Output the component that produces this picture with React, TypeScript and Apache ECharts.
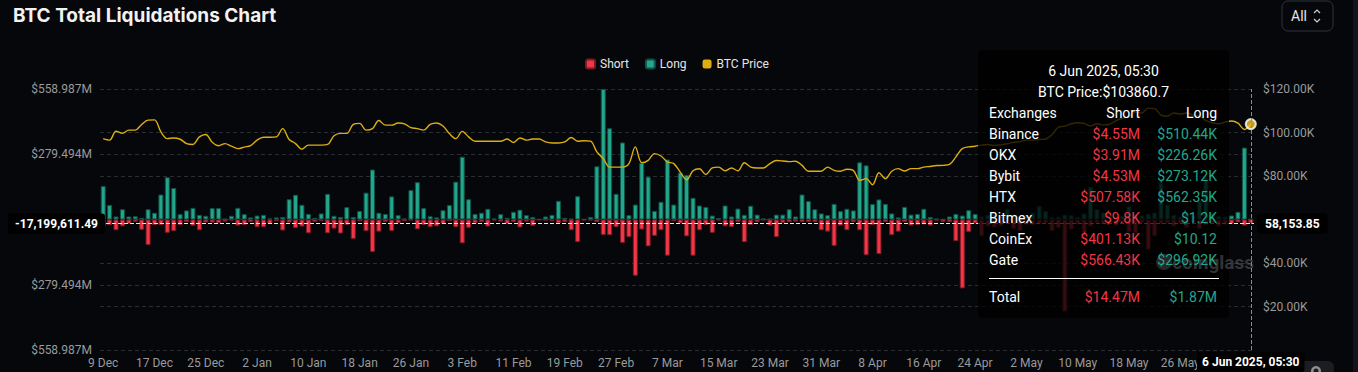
import React, { useEffect, useRef } from 'react';
import * as echarts from 'echarts';

// ---------- data ----------
const START_UTC = Date.UTC(2024, 11, 9);
const DAY_COUNT = 180;
const MONTHS = ['Jan', 'Feb', 'Mar', 'Apr', 'May', 'Jun', 'Jul', 'Aug', 'Sep', 'Oct', 'Nov', 'Dec'];
const categories: string[] = Array.from({ length: DAY_COUNT }, (_, i) => {
  const d = new Date(START_UTC + i * 86400000);
  return `${d.getUTCDate()} ${MONTHS[d.getUTCMonth()]}`;
});

// Long liquidations (millions USD)
const longM = [
  143, 62, 13, 44, 13, 14, 7, 44, 29, 107, 181, 135, 23, 39, 50, 20, 16, 49, 49, 3, 16, 50, 23, 9, 17, 20, 4, 9, 11, 87, 106, 63, 24, 7, 26, 110,
  16, 11, 53, 11, 37, 115, 214, 29, 24, 99, 19, 4, 126, 160, 49, 14, 9, 40, 62, 162, 269, 87, 24, 29, 46, 4, 23, 7, 33, 42, 19, 11, 1, 13, 20, 80,
  7, 3, 100, 1, 11, 228, 558.9, 391, 110, 330, 19, 64, 242, 183, 37, 76, 257, 64, 201, 191, 93, 60, 54, 17, 6, 60, 13, 47, 20, 59, 21, 4, 3, 21, 21, 44,
  13, 107, 79, 44, 26, 19, 67, 36, 46, 39, 245, 232, 66, 86, 67, 26, 9, 54, 21, 24, 46, 11, 3, 1, 13, 24, 17, 40, 24,
  13, 20, 24, 15, 46, 20, 12, 18, 30, 57, 36, 10, 12, 21, 18, 10, 26, 140, 45, 30, 20, 12, 15, 57, 22, 18, 25, 30, 158, 64, 20, 12, 25, 18, 80, 179, 30, 15, 12, 17, 33, 308, 1.87,
];

// Short liquidations (millions USD, magnitude)
const shortM = [
  30, 24, 46, 29, 19, 10, 44, 109, 24, 24, 57, 50, 24, 11, 27, 46, 13, 13, 16, 9, 4, 26, 24, 11, 33, 33, 19, 7, 47, 13, 37, 30, 59, 10, 7, 59,
  39, 60, 23, 83, 7, 50, 139, 52, 10, 49, 16, 7, 3, 42, 23, 33, 29, 19, 6, 33, 102, 36, 16, 11, 30, 4, 9, 19, 11, 34, 9, 27, 3, 3, 7, 16,
  11, 46, 97, 4, 4, 11, 66, 67, 33, 100, 76, 241, 43, 115, 70, 46, 155, 7, 17, 72, 155, 46, 23, 57, 4, 29, 32, 11, 97, 23, 11, 3, 26, 75, 14, 11,
  9, 11, 10, 11, 46, 52, 113, 26, 46, 11, 46, 153, 24, 148, 11, 67, 52, 11, 26, 23, 21, 26, 4, 10, 11, 93, 295, 53, 17,
  72, 30, 35, 29, 10, 40, 50, 22, 25, 20, 15, 50, 36, 394, 43, 21, 57, 30, 15, 20, 12, 28, 10, 55, 60, 15, 129, 72, 20, 15, 30, 18, 35, 12, 40, 25, 15, 30, 22, 19, 12, 26, 14.47,
];

// BTC price (thousands USD)
const priceK = [
  97.2, 96.5, 100.6, 99.6, 101.1, 101.1, 103.7, 105.7, 105.8, 100.3, 97.2, 97.5, 96.9, 94.9, 94.5, 98.0, 99.1, 95.5, 93.9, 94.9, 93.7, 92.6, 93.3, 94.0, 96.5, 97.8, 97.8, 98.0, 101.8, 96.8, 94.9, 92.3, 94.2, 94.2, 94.2, 94.5,
  98.5, 99.6, 99.6, 103.7, 104.2, 101.1, 101.8, 105.5, 103.4, 103.4, 104.4, 104.0, 102.2, 101.8, 101.1, 103.7, 104.4, 103.0, 99.5, 97.2, 100.5, 98.0, 96.0, 96.0, 96.0, 96.0, 96.0, 97.0, 95.4, 97.5, 96.5, 97.0, 97.0, 95.7, 95.2, 95.2,
  95.7, 97.7, 96.0, 96.2, 96.0, 91.1, 88.0, 84.1, 84.1, 84.1, 85.7, 93.4, 86.1, 87.2, 90.3, 89.2, 86.5, 85.7, 81.8, 78.3, 82.4, 83.3, 80.7, 83.7, 84.1, 82.4, 83.7, 82.4, 86.1, 84.1, 83.7, 83.7, 85.7, 87.1, 86.9, 86.6,
  86.8, 84.9, 82.2, 82.2, 82.2, 84.1, 82.6, 82.2, 83.1, 82.6, 78.0, 78.8, 76.0, 81.5, 78.8, 82.2, 83.4, 82.3, 83.4, 83.4, 84.1, 84.4, 84.8, 84.9, 85.3, 88.8, 92.6, 93.4, 93.7,
  94.2, 94.5, 94.0, 94.3, 94.8, 95.5, 95.8, 96.5, 96.5, 96.8, 97.0, 99.0, 102.5, 102.9, 104.0, 104.5, 104.2, 103.0, 104.0, 103.5, 103.8, 105.5, 106.5, 107.2, 109.5, 109.0, 111.2, 111.0, 108.0, 107.5, 109.0, 108.5, 109.0, 108.0, 107.5, 105.5, 104.5, 104.0, 104.8, 105.3, 104.3, 101.4, 103.8607,
];

// axis ticks
const LIQ_MAX_M = 558.9872;
const LIQ_STEP_M = 279.4936;
const PRICE_MAX_K = 120;
const PRICE_STEP_K = 20;
const X_LABEL_EVERY = 8;
const X_LABEL_LAST = 168; // 26 May; the next tick sits under the crosshair label

// crosshair (hovered point)
const crossTime = '6 Jun 2025, 05:30';
const crossLiqM = -17.19961149;
const crossPriceK = 58.15385;

// tooltip table
const tipTitle = '6 Jun 2025, 05:30';
const tipPrice = 'BTC Price:$103860.7';
const exchanges = ['Binance', 'OKX', 'Bybit', 'HTX', 'Bitmex', 'CoinEx', 'Gate'];
const tipShort = ['$4.55M', '$3.91M', '$4.53M', '$507.58K', '$9.8K', '$401.13K', '$566.43K'];
const tipLong = ['$510.44K', '$226.26K', '$273.12K', '$562.35K', '$1.2K', '$10.12', '$296.92K'];
const tipTotalShort = '$14.47M';
const tipTotalLong = '$1.87M';

// ---------- styles ----------
const BG = '#05070b';
const RED = '#f23645';
const TEAL = '#22a68c';
const YELLOW = '#dcae12';
const GRID = '#2a2d34';
const LABEL = '#9a9a9a';
const FONT = 'Roboto, "Noto Sans", sans-serif';
const TIP_Z = 300;

function fmtNum(v: number) {
  return v.toLocaleString('en-US', { minimumFractionDigits: 2, maximumFractionDigits: 2 });
}

export default function App() {
  const ref = useRef<HTMLDivElement>(null);

  useEffect(() => {
    document.body.style.margin = '0';
    document.body.style.background = BG;
    const chart = echarts.init(ref.current!, null, { renderer: 'svg' });
    const lastIndex = DAY_COUNT - 1;

    const tipX = 978;
    const tipY = 50;
    const tipW = 251;
    const tipH = 268;
    const colName = 989;
    const colShort = 1140;
    const colLong = 1217;
    const tipText = (text: string, x: number, y: number, fill: string, align: string) => ({
      type: 'text',
      z: TIP_Z + 2,
      x,
      y,
      style: { text, fill, fontSize: 14, fontFamily: FONT, align, verticalAlign: 'middle' },
    });

    const tipElements: any[] = [
      { type: 'rect', z: TIP_Z, shape: { x: tipX, y: tipY, width: tipW, height: tipH, r: 4 }, style: { fill: 'rgba(0,0,0,0.78)' } },
      tipText(tipTitle, tipX + tipW / 2, 71, '#ffffff', 'center'),
      tipText(tipPrice, tipX + tipW / 2, 92, '#ffffff', 'center'),
      tipText('Exchanges', colName, 113, '#ffffff', 'left'),
      tipText('Short', colShort, 113, '#ffffff', 'right'),
      tipText('Long', colLong, 113, '#ffffff', 'right'),
    ];
    exchanges.forEach((name, k) => {
      const y = 134 + 21 * k;
      tipElements.push(tipText(name, colName, y, '#ffffff', 'left'));
      tipElements.push(tipText(tipShort[k], colShort, y, RED, 'right'));
      tipElements.push(tipText(tipLong[k], colLong, y, TEAL, 'right'));
    });
    tipElements.push({ type: 'line', z: TIP_Z + 2, shape: { x1: colName, y1: 278.5, x2: 1219, y2: 278.5 }, style: { stroke: '#ffffff', lineWidth: 1 } });
    tipElements.push(tipText('Total', colName, 297, '#ffffff', 'left'));
    tipElements.push(tipText(tipTotalShort, colShort, 297, RED, 'right'));
    tipElements.push(tipText(tipTotalLong, colLong, 297, TEAL, 'right'));

    const pointerLabel = {
      show: true,
      backgroundColor: '#000000',
      color: '#ffffff',
      fontSize: 12,
      fontWeight: 'bold',
      fontFamily: FONT,
    };

    const option: any = {
      animation: false,
      backgroundColor: BG,
      textStyle: { fontFamily: FONT },
      title: {
        text: 'BTC Total Liquidations Chart',
        left: 8,
        top: 1,
        textStyle: { color: '#f2f2f2', fontSize: 19, fontWeight: 'bold', fontFamily: 'Inter, Roboto, sans-serif' },
      },
      legend: {
        data: ['Short', 'Long', 'BTC Price'],
        top: 53,
        left: 580,
        icon: 'roundRect',
        itemWidth: 9,
        itemHeight: 9,
        itemGap: 16,
        selectedMode: false,
        textStyle: { color: '#e6e6e6', fontSize: 12, fontFamily: FONT },
      },
      grid: { left: 100, right: 104, top: 89, bottom: 22 },
      xAxis: {
        type: 'category',
        data: categories,
        boundaryGap: true,
        axisLine: { show: false },
        axisTick: { show: false },
        splitLine: { show: false },
        axisLabel: {
          interval: (idx: number) => idx % X_LABEL_EVERY === 0 && idx <= X_LABEL_LAST,
          color: LABEL,
          fontSize: 12,
          margin: 7,
        },
        axisPointer: {
          show: true,
          status: 'show',
          value: lastIndex,
          type: 'line',
          snap: false,
          triggerTooltip: false,
          lineStyle: { color: '#8a8a8a', type: 'dashed', width: 1 },
          label: { ...pointerLabel, formatter: () => crossTime, padding: [4, 5], margin: 2 },
        },
      },
      yAxis: [
        {
          type: 'value',
          position: 'left',
          min: -LIQ_MAX_M,
          max: LIQ_MAX_M,
          interval: LIQ_STEP_M,
          axisLine: { show: false },
          axisTick: { show: false },
          splitLine: { show: true, lineStyle: { color: GRID, type: [4, 3], width: 1 } },
          axisLabel: {
            color: LABEL,
            fontSize: 12,
            margin: 8,
            formatter: (v: number) => (Math.abs(v) < 1e-6 ? '' : `$${Math.abs(v).toFixed(3)}M`),
          },
          axisPointer: {
            show: true,
            status: 'show',
            value: crossLiqM,
            type: 'line',
            snap: false,
            triggerTooltip: false,
            lineStyle: { color: '#e8e8e8', type: 'dashed', width: 1 },
            label: { ...pointerLabel, formatter: (p: any) => fmtNum(p.value * 1e6), padding: [4, 7], margin: -5 },
          },
        },
        {
          type: 'value',
          position: 'right',
          min: 0,
          max: PRICE_MAX_K,
          interval: PRICE_STEP_K,
          axisLine: { show: false },
          axisTick: { show: false },
          splitLine: { show: true, lineStyle: { color: GRID, type: [4, 3], width: 1 } },
          axisLabel: {
            color: LABEL,
            fontSize: 12,
            margin: 9,
            formatter: (v: number) => (v === 0 || v === 60 ? '' : `$${v.toFixed(2)}K`),
          },
          axisPointer: {
            show: true,
            status: 'show',
            value: crossPriceK,
            type: 'line',
            snap: false,
            triggerTooltip: false,
            lineStyle: { color: '#e8e8e8', type: 'dashed', width: 1 },
            label: { ...pointerLabel, formatter: (p: any) => fmtNum(p.value * 1000), padding: [4, 8], margin: 3 },
          },
        },
      ],
      series: [
        {
          name: 'Short',
          type: 'bar',
          stack: 'liq',
          barWidth: '78%',
          data: shortM.map((v) => -v),
          itemStyle: { color: RED, borderColor: '#7d1a25', borderWidth: 1 },
        },
        {
          name: 'Long',
          type: 'bar',
          stack: 'liq',
          barWidth: '78%',
          data: longM,
          itemStyle: { color: TEAL, borderColor: '#0f5247', borderWidth: 1 },
        },
        {
          name: 'BTC Price',
          type: 'line',
          yAxisIndex: 1,
          data: priceK,
          smooth: 0.35,
          symbol: 'none',
          lineStyle: { color: YELLOW, width: 1.4 },
          itemStyle: { color: YELLOW },
          z: 4,
        },
        {
          name: 'Latest',
          type: 'scatter',
          yAxisIndex: 1,
          data: [[lastIndex, priceK[lastIndex]]],
          symbolSize: 10,
          itemStyle: { color: '#f7c42c', borderColor: '#ffffff', borderWidth: 2 },
          z: 6,
        },
      ],
      graphic: [
        // tooltip
        ...tipElements,
        // watermark (over the tooltip background, under its text)
        { type: 'circle', z: TIP_Z + 1, shape: { cx: 1164, cy: 262, r: 8 }, style: { fill: 'rgba(130,130,130,0.3)' } },
        {
          type: 'text', z: TIP_Z + 1, x: 1254, y: 262,
          style: { text: 'coinglass', fill: 'rgba(130,130,130,0.4)', fontSize: 19, fontWeight: 'bold', fontFamily: FONT, align: 'right', verticalAlign: 'middle' },
        },
        // "All" selector
        { type: 'rect', z: 10, shape: { x: 1282, y: 1, width: 51, height: 30, r: 6 }, style: { fill: 'transparent', stroke: '#30343b', lineWidth: 1 } },
        {
          type: 'text', z: 10, x: 1291, y: 16,
          style: { text: 'All', fill: '#e8e8e8', fontSize: 14, fontFamily: FONT, align: 'left', verticalAlign: 'middle' },
        },
        { type: 'polyline', z: 10, shape: { points: [[1314, 13], [1317, 10], [1320, 13]] }, style: { stroke: '#cfcfcf', lineWidth: 1.2, fill: 'none' } },
        { type: 'polyline', z: 10, shape: { points: [[1314, 19], [1317, 22], [1320, 19]] }, style: { stroke: '#cfcfcf', lineWidth: 1.2, fill: 'none' } },
        // settings button (bottom right)
        { type: 'rect', z: 10, shape: { x: 1298, y: 361, width: 36, height: 20, r: 6 }, style: { fill: '#1b1d23' } },
        { type: 'ring', z: 11, shape: { cx: 1316, cy: 371, r: 5, r0: 2.5 }, style: { fill: '#8f8f8f' } },
        // right edge strip
        { type: 'rect', z: 10, shape: { x: 1353, y: 0, width: 5, height: 372 }, style: { fill: '#121419' } },
      ],
    };

    chart.setOption(option);
    return () => chart.dispose();
  }, []);

  return (
    <div
      ref={ref}
      style={{ position: 'fixed', left: 0, top: 0, width: 1358, height: 372, background: BG }}
    />
  );
}
